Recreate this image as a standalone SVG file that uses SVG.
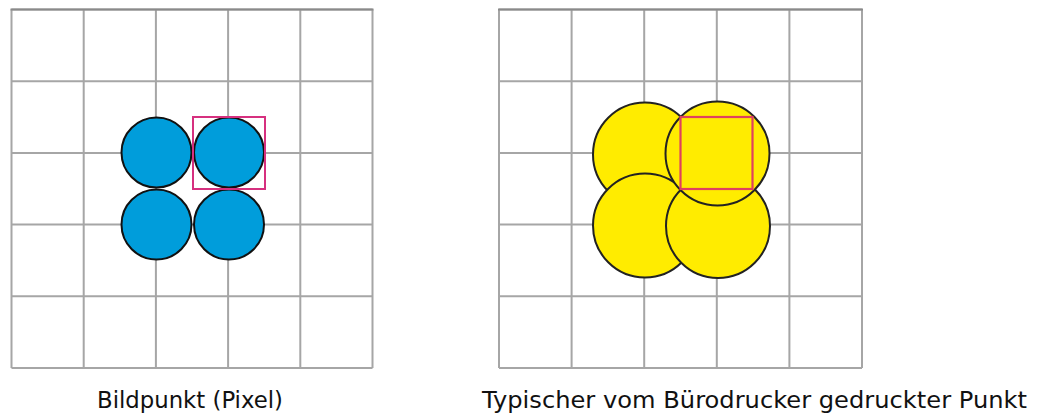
<svg xmlns="http://www.w3.org/2000/svg" width="1042" height="415" viewBox="0 0 1042 415">
<style>
.grid{fill:none;stroke:#a6a6a6;stroke-width:2}
.top{stroke:#8a8a8a;stroke-width:2}
.blue{fill:#009ddb;stroke:#111;stroke-width:2}
.yellow{fill:#ffec00;stroke:#222;stroke-width:2}
.lbl{font-family:"DejaVu Sans",Verdana,sans-serif;font-size:22.5px;fill:#111}
</style>
<rect width="1042" height="415" fill="#fff"/>
<g id="grid-left">
<path class="grid" d="M11.5,9.5V368M83.7,9.5V368M155.9,9.5V368M228.1,9.5V368M300.3,9.5V368M372.5,9.5V368M11.5,9.5H372.5M11.5,81.2H372.5M11.5,152.9H372.5M11.5,224.6H372.5M11.5,296.3H372.5M11.5,368H372.5"/>
<line class="top" x1="10.5" y1="9.5" x2="373.5" y2="9.5"/>
</g>
<g id="pixels">
<circle class="blue" cx="156.5" cy="152.5" r="35"/>
<circle class="blue" cx="229" cy="152.5" r="35"/>
<circle class="blue" cx="156.5" cy="224.5" r="35"/>
<circle class="blue" cx="229" cy="224.5" r="35"/>
<rect x="193" y="117" width="72" height="72" fill="none" stroke="#d6307f" stroke-width="2"/>
</g>
<g id="grid-right">
<path class="grid" d="M499,9.5V368M571.6,9.5V368M644.2,9.5V368M716.8,9.5V368M789.4,9.5V368M862,9.5V368M499,9.5H862M499,81.2H862M499,152.9H862M499,224.6H862M499,296.3H862M499,368H862"/>
<line class="top" x1="498" y1="9.5" x2="863" y2="9.5"/>
</g>
<g id="printed-dot">
<circle class="yellow" cx="645" cy="154.5" r="52"/>
<circle class="yellow" cx="645" cy="225.5" r="52"/>
<circle class="yellow" cx="718" cy="226" r="52"/>
<circle class="yellow" cx="717.5" cy="153.5" r="52"/>
<rect x="680.5" y="117" width="72" height="72" fill="none" stroke="#e0405e" stroke-width="2.2"/>
</g>
<g id="labels">
<text class="lbl" x="97" y="408" textLength="186" lengthAdjust="spacingAndGlyphs">Bildpunkt (Pixel)</text>
<text class="lbl" x="482" y="408" textLength="545" lengthAdjust="spacingAndGlyphs">Typischer vom Bürodrucker gedruckter Punkt</text>
</g>
</svg>
